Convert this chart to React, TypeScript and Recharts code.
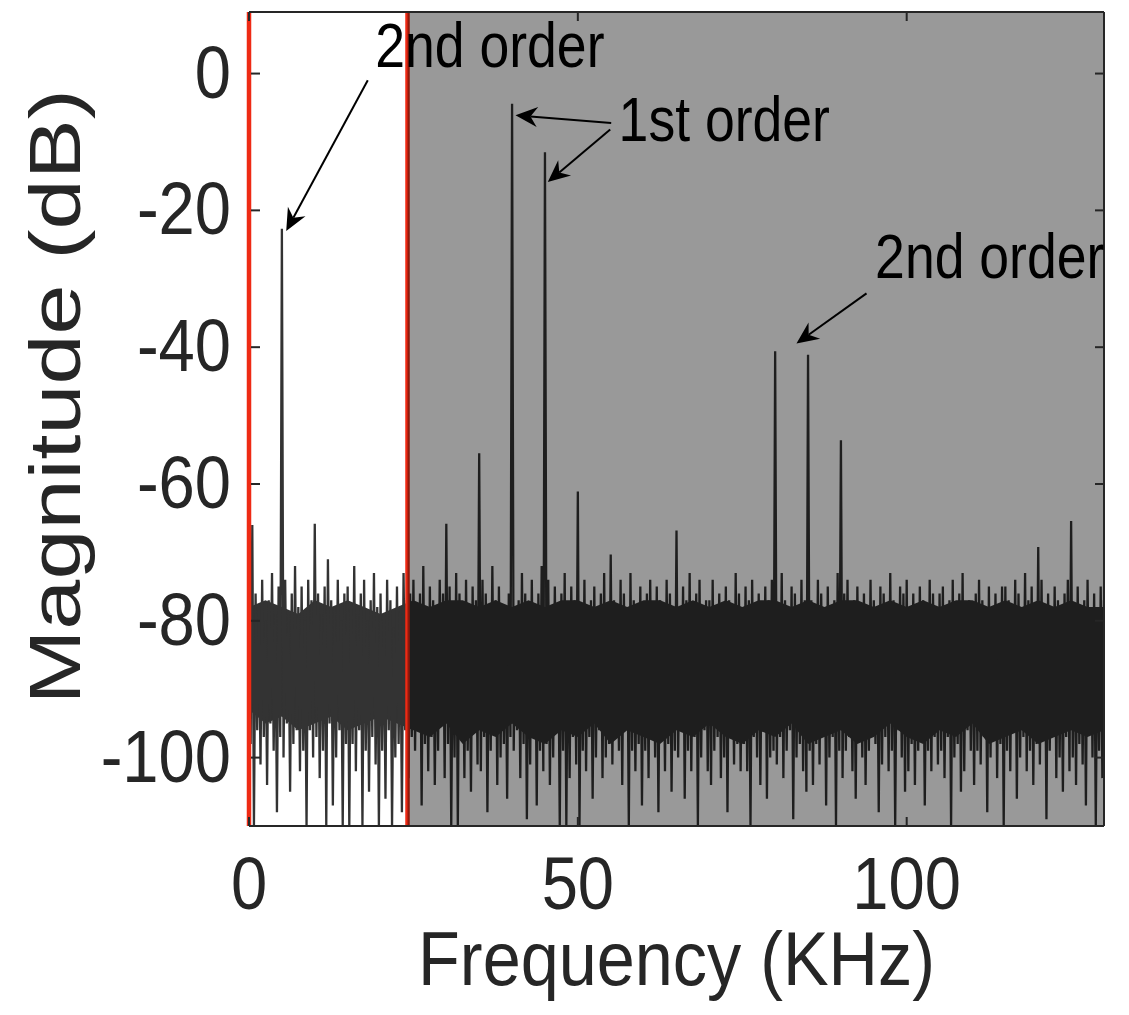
import { ComposedChart, Line, Area, XAxis, YAxis, ReferenceLine, ReferenceArea, ReferenceDot } from 'recharts';

// Noise floor: local maxima every 0.5 kHz (0 … 130)
const floorPeaks = [
  -72, -66, -76, -78, -74, -80, -77, -73, -79, -75,
  -77, -74, -79, -76, -72, -78, -75, -80, -74, -77,
  -73, -76, -79, -75, -71, -77, -78, -74, -80, -76,
  -75, -78, -72, -79, -76, -74, -80, -77, -73, -78,
  -76, -79, -74, -77, -81, -75, -78, -73, -77, -76,
  -74, -78, -76, -72, -79, -75, -77, -80, -74, -76,
  -77, -75, -79, -73, -76, -78, -74, -80, -75, -77,
  -78, -74, -76, -79, -72, -77, -75, -78, -80, -76,
  -75, -79, -77, -73, -76, -80, -74, -78, -76, -72,
  -77, -74, -78, -75, -79, -76, -73, -78, -75, -77,
  -76, -78, -74, -79, -77, -75, -80, -76, -73, -78,
  -75, -77, -79, -74, -76, -78, -73, -77, -79, -75,
  -78, -76, -74, -79, -75, -77, -80, -74, -76, -78,
  -76, -79, -75, -77, -73, -78, -76, -74, -79, -77,
  -77, -74, -78, -76, -80, -75, -77, -79, -73, -76,
  -79, -75, -77, -74, -78, -76, -80, -75, -77, -74,
  -76, -78, -73, -77, -79, -75, -76, -78, -74, -77,
  -75, -77, -79, -74, -76, -78, -75, -80, -77, -73,
  -78, -76, -74, -79, -77, -75, -78, -76, -80, -74,
  -77, -79, -75, -76, -78, -73, -77, -79, -75, -76,
  -74, -78, -76, -79, -75, -77, -80, -74, -76, -78,
  -76, -75, -79, -77, -74, -78, -76, -73, -79, -77,
  -78, -76, -74, -77, -79, -75, -78, -76, -80, -75,
  -75, -77, -79, -74, -76, -78, -73, -77, -75, -79,
  -77, -74, -78, -76, -79, -75, -77, -80, -76, -74,
  -76, -78, -75, -79, -77, -74, -78, -76, -79, -75,
  -77,
];

// Local minima in between (0.25 … 129.75 kHz)
const floorDips = [
  -98, -110, -96, -101, -97, -104, -95, -99, -108, -97,
  -100, -95, -105, -98, -96, -102, -99, -110, -96, -100,
  -97, -103, -99, -110, -95, -107, -100, -96, -110, -98,
  -110, -98, -102, -96, -110, -99, -105, -97, -101, -110,
  -99, -106, -96, -110, -100, -98, -108, -96, -103, -97,
  -99, -96, -107, -98, -102, -97, -104, -99, -95, -103,
  -98, -110, -100, -110, -96, -103, -99, -105, -96, -101,
  -102, -97, -108, -99, -96, -104, -100, -98, -106, -97,
  -99, -96, -103, -98, -109, -101, -97, -107, -99, -102,
  -98, -104, -100, -96, -110, -99, -110, -103, -97, -101,
  -110, -99, -102, -97, -106, -100, -96, -103, -100, -98,
  -101, -97, -99, -104, -96, -110, -99, -102, -98, -107,
  -99, -103, -97, -100, -108, -96, -102, -98, -105, -99,
  -100, -96, -106, -99, -102, -97, -110, -100, -96, -102,
  -104, -99, -97, -103, -100, -108, -96, -101, -98, -102,
  -98, -102, -110, -97, -100, -104, -96, -106, -100, -99,
  -101, -97, -103, -99, -96, -109, -100, -98, -102, -105,
  -99, -104, -98, -101, -96, -107, -100, -97, -110, -99,
  -103, -99, -97, -102, -106, -96, -100, -104, -99, -96,
  -98, -108, -101, -97, -102, -99, -110, -96, -100, -105,
  -102, -98, -104, -99, -96, -107, -99, -102, -97, -101,
  -99, -103, -97, -110, -100, -98, -105, -102, -96, -99,
  -104, -99, -101, -97, -108, -100, -96, -103, -98, -110,
  -99, -102, -96, -106, -100, -97, -102, -99, -104, -98,
  -101, -97, -109, -99, -96, -103, -100, -105, -97, -102,
  -100, -104, -98, -101, -107, -96, -100, -110, -99, -103,
];

// Solid body of the floor where the trace fills in completely, every 2.5 kHz
const coreUpper = [
  -78, -77, -78, -79, -77, -78, -77, -78, -79, -78,
  -77, -78, -77, -77, -78, -77, -78, -77, -78, -77,
  -77, -78, -77, -78, -77, -77, -78, -77, -78, -77,
  -78, -77, -77, -78, -77, -78, -77, -77, -78, -77,
  -78, -77, -78, -77, -77, -78, -77, -78, -77, -78,
  -77, -78, -78,
];
const coreLower = [
  -93, -95, -94, -96, -95, -94, -96, -95, -94, -95,
  -96, -97, -95, -98, -96, -97, -95, -97, -98, -96,
  -97, -95, -98, -96, -97, -98, -96, -97, -95, -97,
  -98, -96, -97, -95, -98, -97, -96, -98, -97, -95,
  -97, -98, -96, -97, -95, -98, -97, -96, -98, -97,
  -96, -97, -96,
];

// Tones standing out of the floor (kHz, dB)
const toneFreqs = [5, 10, 30, 35, 40, 45, 50, 55, 65, 80, 85, 90, 120, 125];
const toneLevels = [-22.7, -65.8, -65.8, -55.5, -4.4, -11.5, -61.1, -70.3, -66.8, -40.6, -41.1, -53.6, -69.2, -65.4];

// Signal band edge (red markers) and the out-of-band shading
const bandEdges = [0, 24.1];
const shadeFrom = 24.1;

const xTicks = [0, 50, 100];
const yTicks = [-100, -80, -60, -40, -20, 0];

// Annotations: labels with their text anchor, arrows from -> to (kHz, dB)
const noteTexts = ['2nd order', '1st order', '2nd order'];
const noteAt = [[19.2, 0.9], [56.2, -9.8], [95.2, -29.9]];
const arrowFrom = [[18.06, -0.98], [55.07, -7.23], [54.92, -8.19], [93.89, -32.14]];
const arrowTo = [[5.66, -23.0], [40.52, -6.1], [45.43, -15.86], [83.24, -39.46]];

const spectrum = floorPeaks.flatMap((peak, i) => {
  const f = i * 0.5;
  const t = toneFreqs.indexOf(f);
  const pts = [{ f, db: t >= 0 ? toneLevels[t] : peak }];
  if (i < floorDips.length) pts.push({ f: f + 0.25, db: floorDips[i] });
  return pts;
});

const core = coreUpper.map((hi, i) => ({ f: i * 2.5, band: [coreLower[i], hi] }));

const W = 1129;
const H = 1015;
const PLOT_LEFT = 249;
const PLOT_RIGHT = 1104;
const PLOT_TOP = 12;
const PLOT_BOTTOM = 826;
const AXIS = '#262626';
const TRACE = '#333';
const RED = '#ee2a14';
const FONT = '"Liberation Sans", Arial, Helvetica, sans-serif';

// eslint-disable-next-line @typescript-eslint/no-explicit-any
function YTick(props: any) {
  const { y, payload } = props;
  return (
    <g>
      <line x1={PLOT_LEFT + 2} x2={PLOT_LEFT + 11} y1={y} y2={y} stroke={AXIS} strokeWidth={2} />
      <line x1={PLOT_RIGHT - 9} x2={PLOT_RIGHT} y1={y} y2={y} stroke={AXIS} strokeWidth={2} />
      <text
        transform={`translate(${PLOT_LEFT - 18},${y + 24}) scale(0.88,1)`}
        textAnchor="end"
        fontFamily={FONT}
        fontSize={74}
        fill={AXIS}
      >
        {payload.value}
      </text>
    </g>
  );
}

// eslint-disable-next-line @typescript-eslint/no-explicit-any
function XTick(props: any) {
  const { x, payload } = props;
  return (
    <g>
      <line x1={x} x2={x} y1={PLOT_BOTTOM} y2={PLOT_BOTTOM - 9} stroke={AXIS} strokeWidth={2} />
      <line x1={x} x2={x} y1={PLOT_TOP} y2={PLOT_TOP + 9} stroke={AXIS} strokeWidth={2} />
      <text
        transform={`translate(${x},${PLOT_BOTTOM + 83}) scale(0.88,1)`}
        textAnchor="middle"
        fontFamily={FONT}
        fontSize={74}
        fill={AXIS}
      >
        {payload.value}
      </text>
    </g>
  );
}

// eslint-disable-next-line @typescript-eslint/no-explicit-any
function XTitle(props: any) {
  const { x, y, width } = props.viewBox;
  return (
    <text
      transform={`translate(${x + width / 2},${y + 159}) scale(0.9,1)`}
      textAnchor="middle"
      fontFamily={FONT}
      fontSize={76}
      fill={AXIS}
    >
      Frequency (KHz)
    </text>
  );
}

// eslint-disable-next-line @typescript-eslint/no-explicit-any
function YTitle(props: any) {
  const { y, height } = props.viewBox;
  return (
    <text
      transform={`translate(80,${y + height / 2 - 22}) rotate(-90) scale(1.25,1)`}
      textAnchor="middle"
      fontFamily={FONT}
      fontSize={72}
      fill={AXIS}
    >
      Magnitude (dB)
    </text>
  );
}

// Straight arrow with a notched, filled head at the "to" end
// eslint-disable-next-line @typescript-eslint/no-explicit-any
function ArrowShape(props: any) {
  const { x1, y1, x2, y2 } = props;
  const a = Math.atan2(y2 - y1, x2 - x1);
  const ux = Math.cos(a);
  const uy = Math.sin(a);
  const len = 22;
  const half = 10;
  const notch = 15;
  const bx = x2 - len * ux;
  const by = y2 - len * uy;
  const nx = x2 - notch * ux;
  const ny = y2 - notch * uy;
  const head = [
    [x2, y2],
    [bx - half * uy, by + half * ux],
    [nx, ny],
    [bx + half * uy, by - half * ux],
  ]
    .map((p) => p.join(','))
    .join(' ');
  return (
    <g>
      <line x1={x1} y1={y1} x2={nx} y2={ny} stroke="#000" strokeWidth={2} />
      <polygon points={head} fill="#000" />
    </g>
  );
}

// eslint-disable-next-line @typescript-eslint/no-explicit-any
const noteShape = (text: string) => (props: any) => (
  <text
    transform={`translate(${props.cx},${props.cy}) scale(0.85,1)`}
    fontFamily={FONT}
    fontSize={63}
    fill="#000"
  >
    {text}
  </text>
);

export default function App() {
  return (
    <div style={{ position: 'absolute', left: 0, top: 0, width: W, height: H, background: '#fff' }}>
      <ComposedChart
        width={W}
        height={H}
        data={spectrum}
        margin={{ top: PLOT_TOP, right: W - PLOT_RIGHT, bottom: 0, left: 0 }}
      >
        <XAxis
          dataKey="f"
          type="number"
          domain={[0, 130]}
          ticks={xTicks}
          allowDataOverflow
          height={H - PLOT_BOTTOM}
          tickLine={false}
          axisLine={{ stroke: AXIS, strokeWidth: 2 }}
          tick={<XTick />}
          label={{ content: XTitle }}
        />
        <YAxis
          type="number"
          domain={[-110, 9]}
          ticks={yTicks}
          allowDataOverflow
          width={PLOT_LEFT}
          tickLine={false}
          axisLine={false}
          tick={<YTick />}
          label={{ content: YTitle }}
        />
        <Area
          data={core}
          type="linear"
          dataKey="band"
          fill={TRACE}
          fillOpacity={1}
          stroke="none"
          dot={false}
          activeDot={false}
          isAnimationActive={false}
        />
        <Line
          type="linear"
          dataKey="db"
          stroke={TRACE}
          strokeWidth={2.3}
          dot={false}
          activeDot={false}
          isAnimationActive={false}
        />
        {bandEdges.map((f) => (
          <ReferenceLine key={`edge-${f}`} x={f} stroke={RED} strokeWidth={4.5} ifOverflow="visible" zIndex={420} />
        ))}
        <ReferenceArea x1={shadeFrom} x2={130} y1={-110} y2={9} fill="#000" fillOpacity={0.4} stroke="none" zIndex={450} />
        <ReferenceLine y={9} stroke={AXIS} strokeWidth={2} zIndex={460} />
        <ReferenceLine x={130} stroke={AXIS} strokeWidth={2} zIndex={460} />
        {arrowFrom.map((from, i) => (
          <ReferenceLine
            key={`arrow-${i}`}
            segment={[
              { x: from[0], y: from[1] },
              { x: arrowTo[i][0], y: arrowTo[i][1] },
            ]}
            shape={ArrowShape}
            zIndex={600}
          />
        ))}
        {noteTexts.map((text, i) => (
          <ReferenceDot
            key={`note-${i}`}
            x={noteAt[i][0]}
            y={noteAt[i][1]}
            r={0}
            shape={noteShape(text)}
            zIndex={600}
          />
        ))}
      </ComposedChart>
    </div>
  );
}
